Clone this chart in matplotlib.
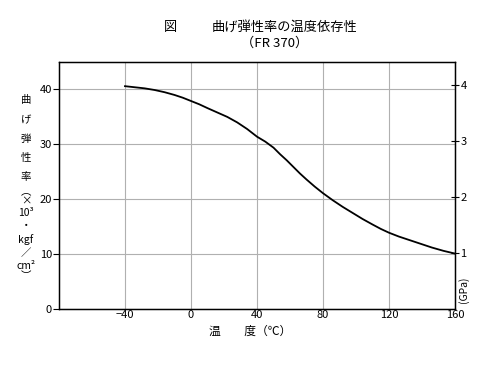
import numpy as np
import matplotlib
matplotlib.use('Agg')
import matplotlib.pyplot as plt

plt.rcParams['font.family'] = ['Noto Sans CJK JP', 'DejaVu Sans']

# data
temp = [-40, -34, -28, -22, -16, -10, -5, 0, 5, 10, 16, 22, 28, 34, 40, 45, 50, 54, 58, 62,
        66, 70, 75, 80, 86, 92, 98, 104, 110, 115, 120, 126, 132, 139, 146, 153, 160]
modulus = [40.6, 40.4, 40.2, 39.9, 39.5, 39.0, 38.5, 37.9, 37.3, 36.6, 35.8, 35.0, 34.0, 32.8, 31.4,
           30.5, 29.4, 28.2, 27.1, 25.9, 24.7, 23.6, 22.3, 21.1, 19.8, 18.6, 17.5, 16.4, 15.4, 14.6,
           13.9, 13.2, 12.6, 11.9, 11.2, 10.6, 10.1]
xticks = [-40, 0, 40, 80, 120, 160]
xticklabels = ['\u221240', '0', '40', '80', '120', '160']
yticks = [0, 10, 20, 30, 40]
gpa_ticks = [1, 2, 3, 4]
GPA = 10.197  # x10^3 kgf/cm2 per GPa

fig = plt.figure(figsize=(5, 3.67), dpi=100)
ax = fig.add_axes([0.118, 0.158, 0.792, 0.673])
ax.plot(temp, modulus, color='black', lw=1.3)
ax.set_xlim(-80, 160)
ax.set_ylim(0, 45)
ax.set_xticks(xticks)
ax.set_xticklabels(xticklabels)
ax.set_yticks(yticks)
ax.grid(True, color='#b0b0b0', lw=0.8)
ax.tick_params(axis='x', length=0, labelsize=8, pad=1)
ax.tick_params(axis='y', length=4, labelsize=8, pad=1)
for s in ax.spines.values():
    s.set_linewidth(1.0)

ax2 = ax.twinx()
ax2.set_ylim(0, 45)
ax2.set_yticks([g * GPA for g in gpa_ticks])
ax2.set_yticklabels([str(g) for g in gpa_ticks])
ax2.tick_params(axis='y', direction='inout', length=6, labelsize=8, pad=1)
fig.text(0.928, 0.21, '(GPa)', rotation=90, fontsize=7.5, ha='center', va='center')

# title
fig.text(0.34, 0.925, '図', fontsize=9.5, ha='center', va='center')
fig.text(0.57, 0.925, '曲げ弾性率の温度依存性', fontsize=9.5, ha='center', va='center')
fig.text(0.55, 0.882, '（FR 370）', fontsize=9.5, ha='center', va='center')

# x label
fig.text(0.5, 0.098, '温　　度（℃）', fontsize=8.5, ha='center', va='center')

# vertical y label
ylab = [('曲', 100), ('げ', 120), ('弾', 139), ('性', 158), ('率', 177),
        ('︵', 192), ('×', 201), ('10³', 213), ('・', 226), ('kgf', 240),
        ('／', 253), ('cm²', 266), ('︶', 276)]
for ch, py in ylab:
    fig.text(26 / 500, 1 - py / 367, ch, fontsize=7.5, ha='center', va='center')

fig.savefig('out.png', dpi=100)
